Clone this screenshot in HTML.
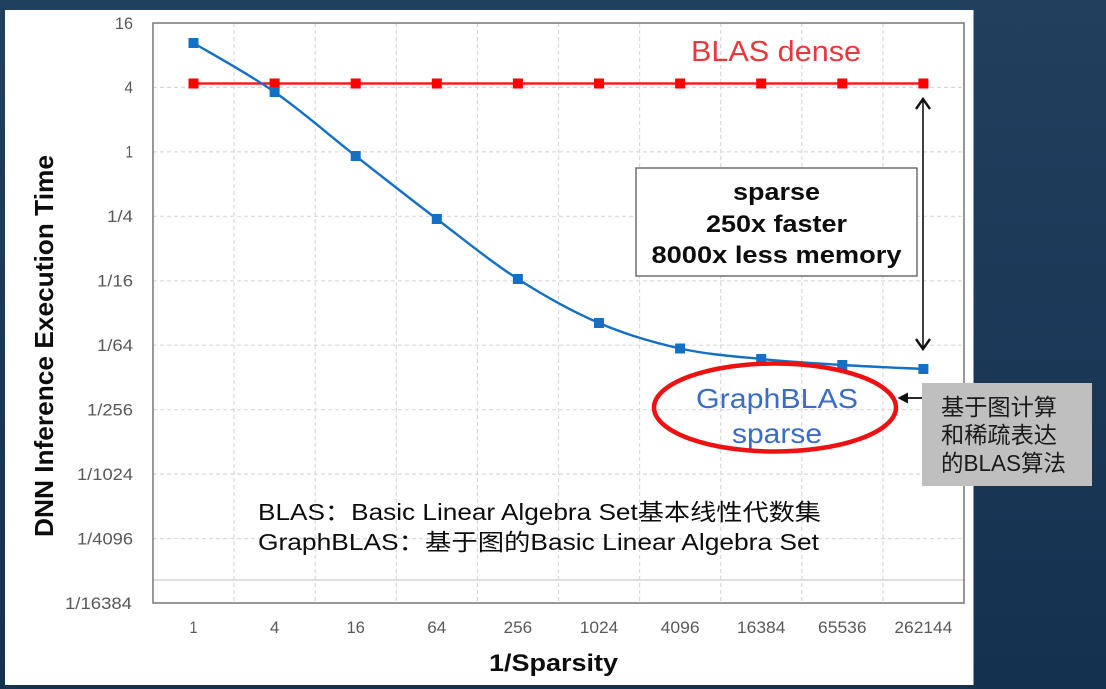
<!DOCTYPE html>
<html><head><meta charset="utf-8">
<style>
html,body{margin:0;padding:0;width:1106px;height:689px;overflow:hidden;background:#1b3a57;}
svg{display:block;}
</style></head>
<body>
<svg width="1106" height="689" viewBox="0 0 1106 689" xmlns="http://www.w3.org/2000/svg">
<defs>
<linearGradient id="bg" x1="0" y1="0" x2="0" y2="1">
<stop offset="0" stop-color="#21405e"/>
<stop offset="1" stop-color="#143150"/>
</linearGradient>
</defs>
<rect x="0" y="0" width="1106" height="689" fill="url(#bg)"/>
<rect x="5" y="10" width="968.5" height="675" fill="#ffffff"/>

<!-- gridlines horizontal -->
<g stroke="#d9d9d9" stroke-width="1.2" stroke-dasharray="4 3" fill="none">
<line x1="153" y1="87.4" x2="964" y2="87.4"/>
<line x1="153" y1="151.9" x2="964" y2="151.9"/>
<line x1="153" y1="216.3" x2="964" y2="216.3"/>
<line x1="153" y1="280.8" x2="964" y2="280.8"/>
<line x1="153" y1="345.2" x2="964" y2="345.2"/>
<line x1="153" y1="409.7" x2="964" y2="409.7"/>
<line x1="153" y1="474.1" x2="964" y2="474.1"/>
<line x1="153" y1="538.6" x2="964" y2="538.6"/>
<line x1="234.1" y1="23" x2="234.1" y2="603"/>
<line x1="315.2" y1="23" x2="315.2" y2="603"/>
<line x1="396.3" y1="23" x2="396.3" y2="603"/>
<line x1="477.4" y1="23" x2="477.4" y2="603"/>
<line x1="558.5" y1="23" x2="558.5" y2="603"/>
<line x1="639.6" y1="23" x2="639.6" y2="603"/>
<line x1="720.7" y1="23" x2="720.7" y2="603"/>
<line x1="801.8" y1="23" x2="801.8" y2="603"/>
<line x1="882.9" y1="23" x2="882.9" y2="603"/>
</g>
<line x1="153" y1="580" x2="964" y2="580" stroke="#d4d4d4" stroke-width="1.5"/>
<!-- plot border -->
<rect x="153" y="23" width="811" height="580" fill="none" stroke="#7f7f7f" stroke-width="1.6"/>

<!-- Y tick labels -->
<g font-family="Liberation Sans, Arial, sans-serif" font-size="16.5" fill="#595959" text-anchor="end">
<text x="133" y="29" textLength="18" lengthAdjust="spacingAndGlyphs">16</text>
<text x="133" y="93" textLength="8.5" lengthAdjust="spacingAndGlyphs">4</text>
<text x="133" y="157.5" textLength="7.5" lengthAdjust="spacingAndGlyphs">1</text>
<text x="133" y="222" textLength="26" lengthAdjust="spacingAndGlyphs">1/4</text>
<text x="133" y="286.5" textLength="36" lengthAdjust="spacingAndGlyphs">1/16</text>
<text x="133" y="351" textLength="36" lengthAdjust="spacingAndGlyphs">1/64</text>
<text x="133" y="415.5" textLength="46" lengthAdjust="spacingAndGlyphs">1/256</text>
<text x="133" y="480" textLength="56" lengthAdjust="spacingAndGlyphs">1/1024</text>
<text x="133" y="544.5" textLength="56" lengthAdjust="spacingAndGlyphs">1/4096</text>
<text x="132" y="609" textLength="67" lengthAdjust="spacingAndGlyphs">1/16384</text>
</g>

<!-- X tick labels -->
<g font-family="Liberation Sans, Arial, sans-serif" font-size="17" fill="#595959" text-anchor="middle">
<text x="193.5" y="633" textLength="8" lengthAdjust="spacingAndGlyphs">1</text>
<text x="274.6" y="633" textLength="9.5" lengthAdjust="spacingAndGlyphs">4</text>
<text x="355.7" y="633" textLength="18.5" lengthAdjust="spacingAndGlyphs">16</text>
<text x="436.8" y="633" textLength="19" lengthAdjust="spacingAndGlyphs">64</text>
<text x="517.9" y="633" textLength="28.5" lengthAdjust="spacingAndGlyphs">256</text>
<text x="599" y="633" textLength="38.5" lengthAdjust="spacingAndGlyphs">1024</text>
<text x="680.1" y="633" textLength="39" lengthAdjust="spacingAndGlyphs">4096</text>
<text x="761.2" y="633" textLength="48.5" lengthAdjust="spacingAndGlyphs">16384</text>
<text x="842.3" y="633" textLength="48.5" lengthAdjust="spacingAndGlyphs">65536</text>
<text x="923.4" y="633" textLength="58" lengthAdjust="spacingAndGlyphs">262144</text>
</g>

<!-- Axis titles -->
<text x="553.5" y="671" font-family="Liberation Sans, Arial, sans-serif" font-weight="bold" font-size="24" fill="#0d0d0d" text-anchor="middle" textLength="129" lengthAdjust="spacingAndGlyphs">1/Sparsity</text>
<text transform="translate(53,346) rotate(-90)" x="0" y="0" font-family="Liberation Sans, Arial, sans-serif" font-weight="bold" font-size="26" fill="#0d0d0d" text-anchor="middle" textLength="382" lengthAdjust="spacingAndGlyphs">DNN Inference Execution Time</text>

<!-- Red series -->
<line x1="193.5" y1="83.5" x2="923.4" y2="83.5" stroke="#ff1a1a" stroke-width="2.6"/>
<g fill="#ff0000">
<rect x="188.5" y="78.5" width="10" height="10"/>
<rect x="269.6" y="78.5" width="10" height="10"/>
<rect x="350.7" y="78.5" width="10" height="10"/>
<rect x="431.8" y="78.5" width="10" height="10"/>
<rect x="512.9" y="78.5" width="10" height="10"/>
<rect x="594" y="78.5" width="10" height="10"/>
<rect x="675.1" y="78.5" width="10" height="10"/>
<rect x="756.2" y="78.5" width="10" height="10"/>
<rect x="837.3" y="78.5" width="10" height="10"/>
<rect x="918.4" y="78.5" width="10" height="10"/>
</g>

<!-- Blue series -->
<path d="M193.5,43 C207.0,51.2 247.6,73.2 274.6,92 C301.6,110.8 328.7,134.8 355.7,156 C382.7,177.2 409.8,198.5 436.8,219 C463.8,239.5 490.9,261.7 517.9,279 C544.9,296.3 572.0,311.4 599,323 C626.0,334.6 653.1,342.5 680.1,348.5 C707.1,354.5 734.2,356.3 761.2,359 C788.2,361.8 815.3,363.3 842.3,365 C869.3,366.7 909.9,368.3 923.4,369" fill="none" stroke="#1470c4" stroke-width="2.4"/>
<g fill="#1470c4">
<rect x="188.5" y="38" width="10" height="10"/>
<rect x="269.6" y="87" width="10" height="10"/>
<rect x="350.7" y="151" width="10" height="10"/>
<rect x="431.8" y="214" width="10" height="10"/>
<rect x="512.9" y="274" width="10" height="10"/>
<rect x="594" y="318" width="10" height="10"/>
<rect x="675.1" y="343.5" width="10" height="10"/>
<rect x="756.2" y="354" width="10" height="10"/>
<rect x="837.3" y="360" width="10" height="10"/>
<rect x="918.4" y="364" width="10" height="10"/>
</g>

<!-- BLAS dense label -->
<text x="691" y="61" font-family="Liberation Sans, Arial, sans-serif" font-size="29" fill="#e8383d" textLength="170" lengthAdjust="spacingAndGlyphs">BLAS dense</text>

<!-- double arrow -->
<line x1="923" y1="99" x2="923" y2="349" stroke="#111" stroke-width="1.6"/>
<g stroke="#111" stroke-width="2.4" fill="none" stroke-linejoin="miter">
<polyline points="916,109 923,99 930,109"/>
<polyline points="916,339 923,349 930,339"/>
</g>

<!-- sparse box -->
<rect x="636" y="168" width="281" height="108" fill="#ffffff" stroke="#595959" stroke-width="1.3"/>
<g font-family="Liberation Sans, Arial, sans-serif" font-weight="bold" font-size="24" fill="#0d0d0d" text-anchor="middle">
<text x="776.5" y="200" textLength="87" lengthAdjust="spacingAndGlyphs">sparse</text>
<text x="776.5" y="232" textLength="141" lengthAdjust="spacingAndGlyphs">250x faster</text>
<text x="776.5" y="263" textLength="250" lengthAdjust="spacingAndGlyphs">8000x less memory</text>
</g>

<!-- GraphBLAS ellipse -->
<text x="777" y="408" font-family="Liberation Sans, Arial, sans-serif" font-size="28" fill="#3a6cc8" text-anchor="middle" textLength="162" lengthAdjust="spacingAndGlyphs">GraphBLAS</text>
<text x="777" y="443" font-family="Liberation Sans, Arial, sans-serif" font-size="28" fill="#3a6cc8" text-anchor="middle" textLength="90" lengthAdjust="spacingAndGlyphs">sparse</text>
<ellipse cx="775" cy="407.5" rx="121" ry="44" fill="none" stroke="#ee1111" stroke-width="4.5"/>

<!-- left arrow -->
<line x1="906" y1="398" x2="922" y2="398" stroke="#111" stroke-width="1.8"/>
<polygon points="897.5,398 908,392.5 908,403.5" fill="#111"/>

<!-- gray box -->
<rect x="922" y="383" width="170" height="103" fill="#bfbfbf"/>
<g font-family="Liberation Sans, 'Noto Sans CJK SC', sans-serif" font-size="23" fill="#1a1a1a">
<text x="941" y="415" textLength="116" lengthAdjust="spacingAndGlyphs">基于图计算</text>
<text x="941" y="443" textLength="116" lengthAdjust="spacingAndGlyphs">和稀疏表达</text>
<text x="941" y="471" textLength="125" lengthAdjust="spacingAndGlyphs">的BLAS算法</text>
</g>

<!-- annotation -->
<g font-family="Liberation Sans, 'Noto Sans CJK SC', sans-serif" font-size="23" fill="#0d0d0d">
<text x="258" y="520" textLength="563" lengthAdjust="spacingAndGlyphs">BLAS：Basic Linear Algebra Set基本线性代数集</text>
<text x="258" y="550" textLength="561" lengthAdjust="spacingAndGlyphs">GraphBLAS：基于图的Basic Linear Algebra Set</text>
</g>
</svg>
</body></html>
